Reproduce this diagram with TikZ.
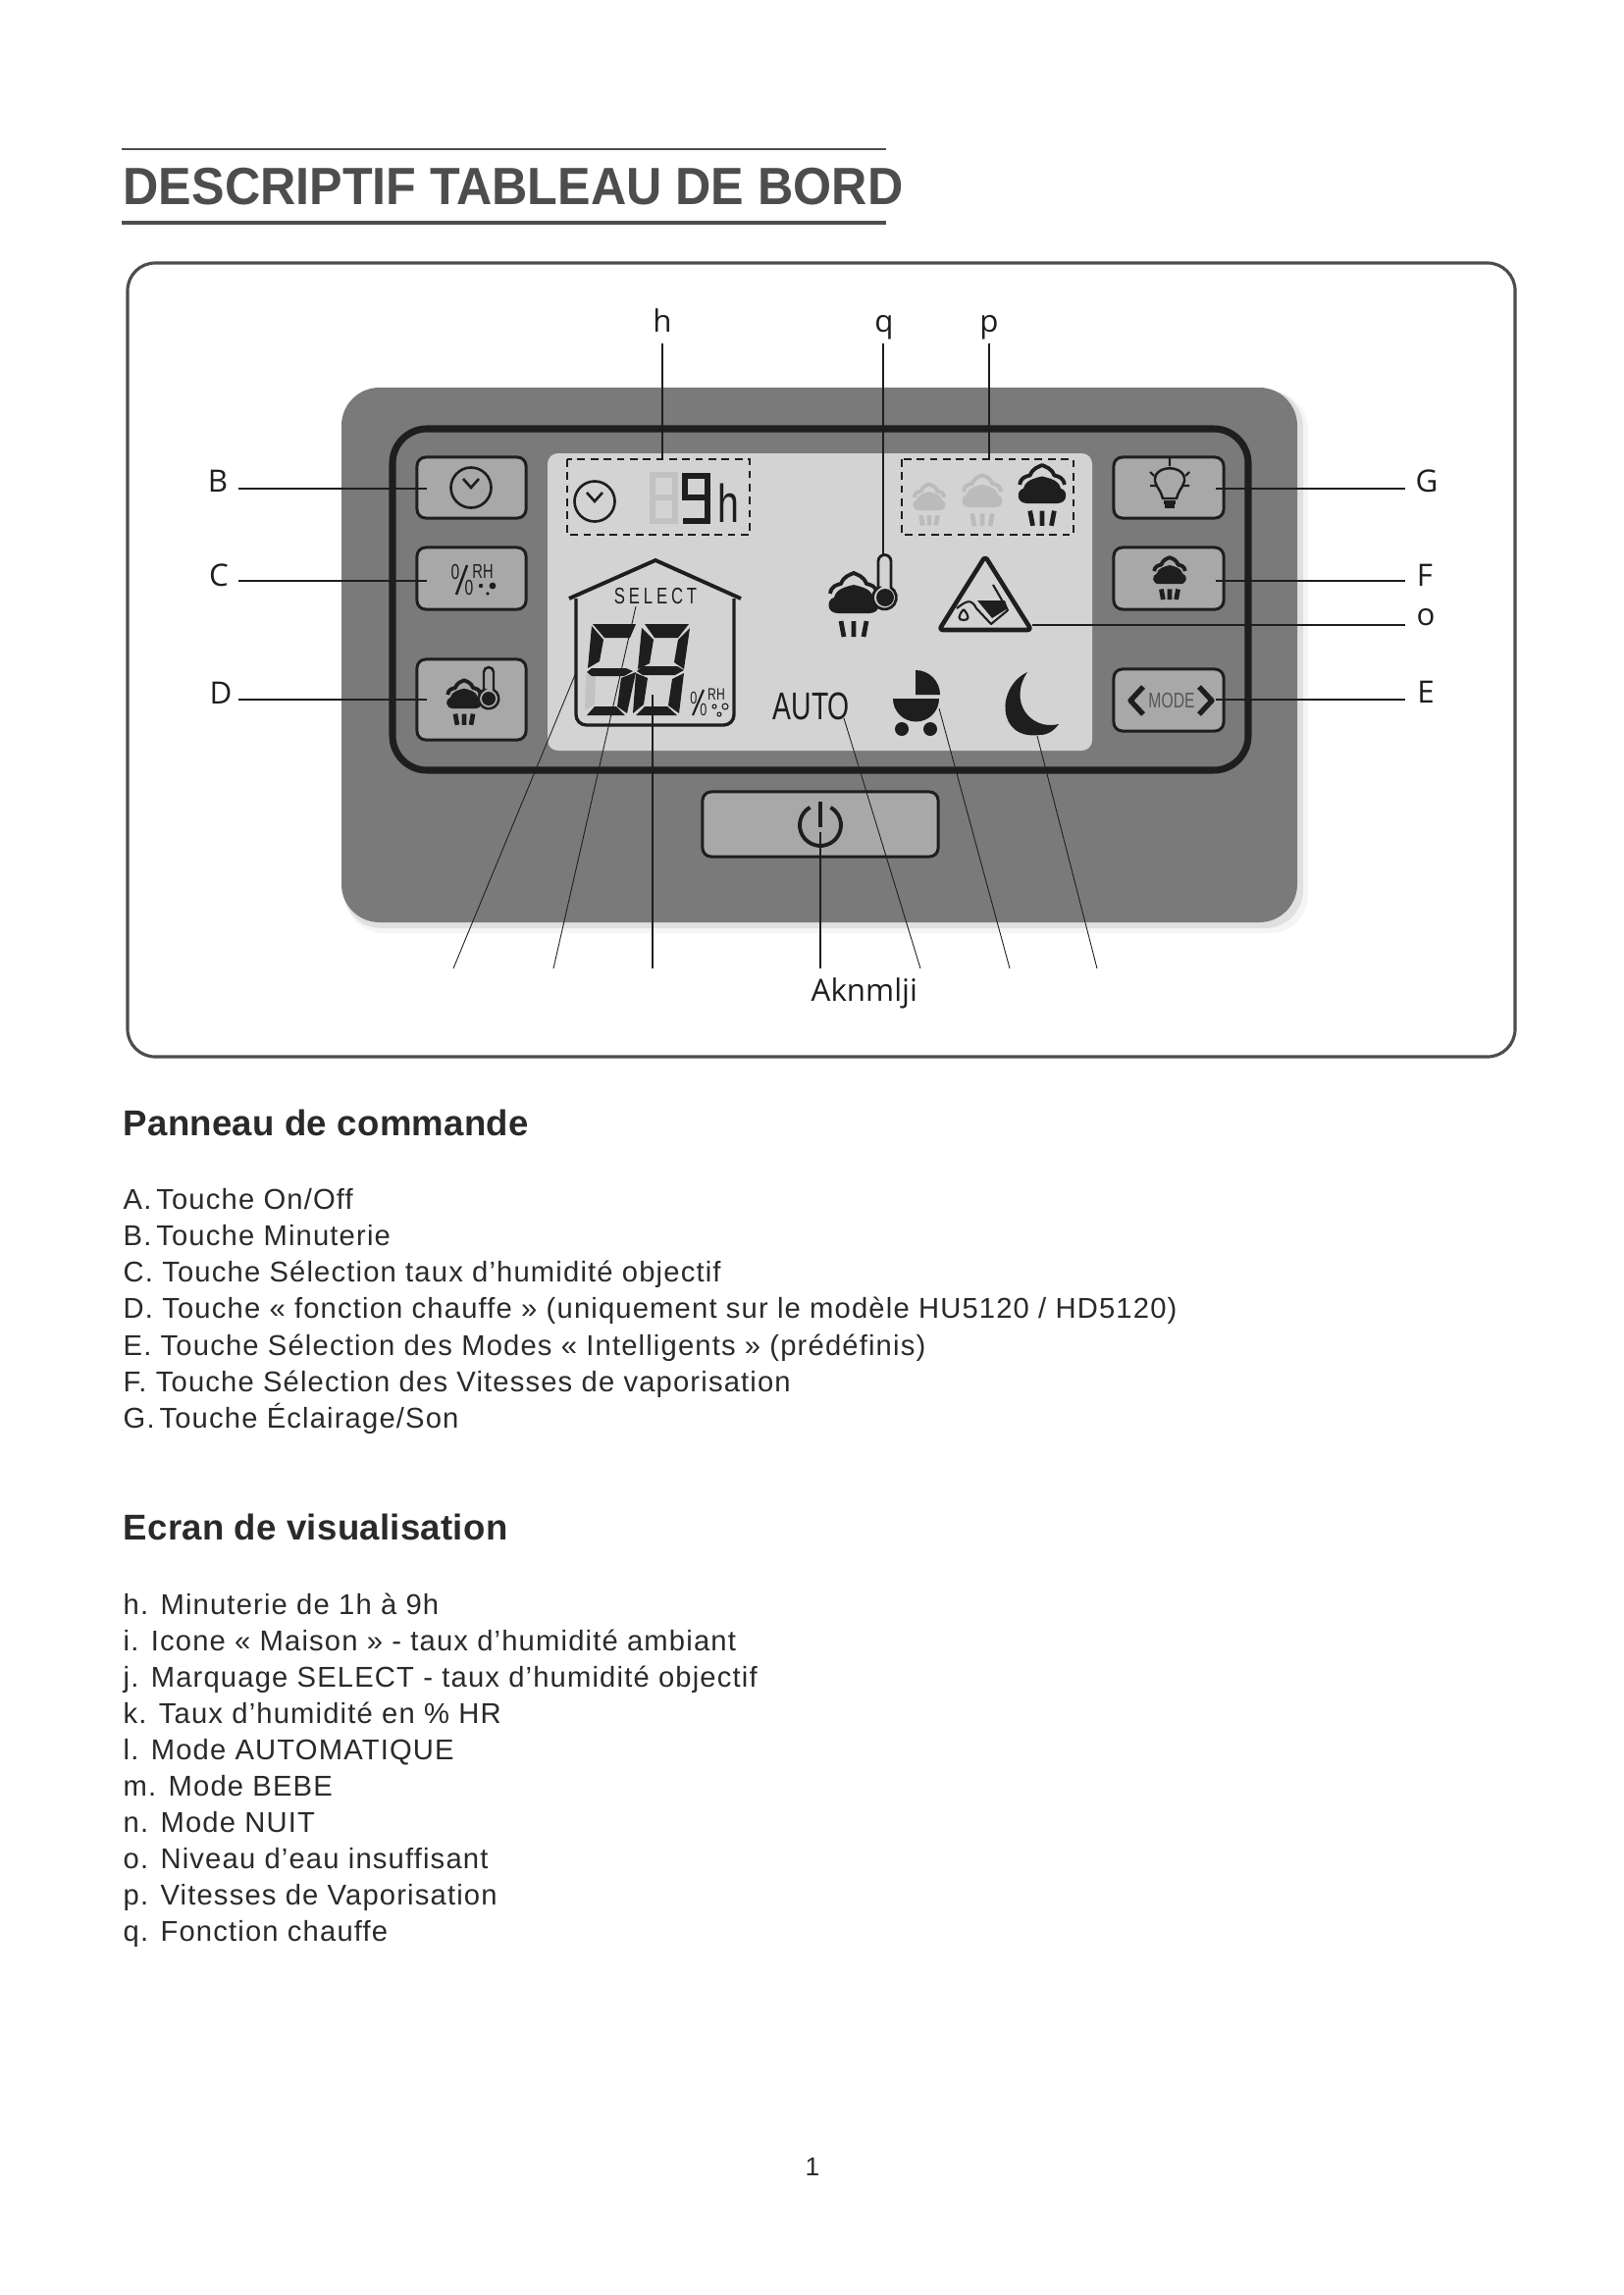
\documentclass[tikz,border=0pt]{standalone}
\usepackage{fontspec}
\setmainfont[LetterSpace=4]{Liberation Sans}
\newfontfamily\headfont[LetterSpace=0.8]{Liberation Sans}
\newfontfamily\titlefont[FakeStretch=0.94]{Liberation Sans}
\newfontfamily\digitfont[FakeStretch=0.72]{Liberation Sans}
\newfontfamily\calloutfont{Open Sans}
\definecolor{panelgrey}{HTML}{7A7A7A}
\definecolor{lcdgrey}{HTML}{D3D3D3}
\definecolor{btngrey}{HTML}{A8A8A8}
\definecolor{inkdark}{HTML}{1E1E1E}
\definecolor{titlegrey}{HTML}{4D4D4D}
\definecolor{ghostgrey}{HTML}{C2C2C2}
\definecolor{textgrey}{HTML}{2A2A2A}
\tikzset{
  x=0.01cm,y=-0.01cm,
  btn/.style={draw=inkdark,line width=0.85pt,fill=btngrey,rounded corners=2.5pt,inner sep=0pt,minimum width=1.11cm},
  lead/.style={draw=inkdark,line width=0.38pt},
  thinlead/.style={draw=inkdark,line width=0.25pt},
  dashbox/.style={draw=inkdark,line width=0.6pt,dash pattern=on 2.2pt off 1.6pt},
  callout/.style={font=\calloutfont\fontsize{8.9}{11}\selectfont,text=inkdark,inner sep=0pt},
  bodyline/.style={anchor=base west,yshift=-0.1cm,inner sep=0pt,font=\fontsize{8.3}{10}\selectfont,text=textgrey},
  heading/.style={anchor=base west,yshift=-0.125cm,inner sep=0pt,font=\headfont\bfseries\fontsize{10.4}{13}\selectfont,text=textgrey},
  lcdglyph/.style={inner sep=0pt,text=inkdark},
  pics/cloud/.style={code={
    \draw[line width=1.35pt,draw=#1] (-13,28)--(-10,44) (0,28)--(0,44) (13,28)--(10,44);
    \fill[#1] (-16,20) .. controls (-28,20) and (-28,6) .. (-20,4) .. controls (-18,-5) and (-8,-7) .. (0,-9) .. controls (8,-7) and (18,-5) .. (20,4) .. controls (28,6) and (28,20) .. (16,20) -- cycle;
    \draw[line width=1.1pt,draw=#1,line join=round] (-24,0) .. controls (-23,-8) and (-17,-9) .. (-13,-10) .. controls (-10,-18) and (-4,-19) .. (0,-21) .. controls (4,-19) and (10,-18) .. (13,-10) .. controls (17,-9) and (23,-8) .. (24,0);
  }},
}
\begin{document}
\begin{tikzpicture}
\useasboundingbox (0,0) rectangle (1654,2339);
\fill[white] (0,0) rectangle (1654,2339);
% title
\draw[titlegrey,line width=0.5pt] (124,152)--(903,152);
\draw[titlegrey,line width=1pt] (124,227)--(903,227);
\node[anchor=west,inner sep=0pt,text=titlegrey,font=\titlefont\bfseries\fontsize{15.2}{18}\selectfont] (title) at (125,190) {DESCRIPTIF TABLEAU DE BORD};
% outer frame
\draw[draw=titlegrey,line width=0.9pt,rounded corners=8pt] (130,268) rectangle (1544,1077);
% panel with soft shadow
\fill[black!4,rounded corners=11pt] (352,399) rectangle (1333,951);
\fill[black!12,rounded corners=11pt] (350,397) rectangle (1328,946);
\fill[panelgrey,rounded corners=11pt] (348,395) rectangle (1322,940);
\fill[lcdgrey,rounded corners=3pt] (558,462) rectangle (1113,765);
\draw[inkdark,line width=2pt,rounded corners=10pt] (400,437) rectangle (1272,785);
% buttons
\node[btn,minimum height=0.62cm] (btnB) at (480.5,497) {};
\node[btn,minimum height=0.63cm] (btnC) at (480.5,589.5) {};
\node[btn,minimum height=0.82cm] (btnD) at (480.5,713) {};
\node[btn,minimum height=0.62cm,minimum width=1.12cm] (btnG) at (1191,497) {};
\node[btn,minimum height=0.63cm,minimum width=1.12cm] (btnF) at (1191,589.5) {};
\node[btn,minimum height=0.63cm,minimum width=1.12cm] (btnE) at (1191,713.5) {};
\node[btn,minimum height=0.66cm,minimum width=2.40cm] (btnA) at (836,840) {};
% power icon
\draw[inkdark,line width=1.1pt] (825.5,822.8) arc (-120:-420:21);
\draw[inkdark,line width=1.1pt] (836,817)--(836,843);
% clock button
\draw[inkdark,line width=0.75pt] (480,497) circle (20.5);
\draw[inkdark,line width=0.75pt] (472,488)--(480,497)--(488,488);
% %RH button
\node[lcdglyph,font=\digitfont\fontsize{6.2}{7}\selectfont] (pctB0) at (464,583) {0};
\draw[inkdark,line width=0.7pt] (476,576)--(465,606);
\node[lcdglyph,font=\digitfont\fontsize{6.2}{7}\selectfont] (pctB1) at (478,599) {0};
\node[lcdglyph,font=\digitfont\fontsize{5.8}{6}\selectfont] (rhB) at (492,582) {RH};
\fill[inkdark] (490,597) circle (2.2) (502,597) circle (3.4) (497,605) circle (1.8);
% cloud+thermo button
\pic[scale=0.7] at (473,708) {cloud=inkdark};
\draw[inkdark,line width=0.7pt,fill=btngrey] (493,703) -- (493,685) arc (180:360:5) -- (503,703) arc (-61:241:10.3) -- cycle;
\fill[inkdark] (498,712) circle (7);
% bulb button
\draw[inkdark,line width=0.7pt] (1185,508) .. controls (1182,496) and (1174,494) .. (1178,484) .. controls (1183,475) and (1201,475) .. (1206,484) .. controls (1210,494) and (1202,496) .. (1199,508) -- cycle;
\draw[inkdark,line width=0.9pt] (1186,512)--(1198,512) (1187,516)--(1197,516);
\draw[inkdark,line width=0.6pt] (1192,475)--(1192,467) (1172,481)--(1176,485) (1212,481)--(1208,485) (1172,495)--(1178,495) (1206,495)--(1212,495);
% cloud button
\pic[scale=0.66] at (1192,582) {cloud=inkdark};
% MODE button
\draw[inkdark,line width=1.5pt,line join=round] (1165,700)--(1152,714)--(1165,728);
\draw[inkdark,line width=1.5pt,line join=round] (1222,700)--(1235,714)--(1222,728);
\node[inner sep=0pt,text=inkdark!75,font=\digitfont\fontsize{6.2}{8}\selectfont] (modetxt) at (1194,714) {MODE};
% LCD dashed boxes
\draw[dashbox] (578,468) rectangle (764,545);
\draw[dashbox] (919,468) rectangle (1094,545);
% lcd clock
\draw[inkdark,line width=0.75pt] (606,511) circle (20.5);
\draw[inkdark,line width=0.75pt] (598,502)--(606,511)--(614,502);
% digits ghost 8
\draw[ghostgrey,line width=1.9pt] (665,484) rectangle (688,531);
\draw[ghostgrey,line width=1.6pt] (665,507)--(688,507);
% digit 9
\draw[inkdark,line width=1.8pt,line join=miter] (721,507)--(698,507)--(698,485)--(721,485)--(721,531)--(696,531);
% h
\node[lcdglyph,font=\digitfont\fontsize{15.5}{18}\selectfont] (hunit) at (742,513) {h};
% clouds in the dashed box
\begin{scope}[opacity=0.13]
\pic[scale=0.65] at (947,507) {cloud=inkdark};
\pic[scale=0.8] at (1001,501) {cloud=inkdark};
\end{scope}
\pic[scale=0.95] at (1062,494) {cloud=inkdark};
% house
\draw[inkdark,line width=1.1pt,line join=round] (580,610)--(668,571)--(755,610);
\draw[inkdark,line width=0.95pt,rounded corners=3pt] (587,610)--(587,739)--(748,739)--(748,610);
\node[lcdglyph,font=\digitfont\fontsize{6.6}{8}\selectfont] (selecttxt) at (668,608) {S\,E\,L\,E\,C\,T};
% big digit 5
\fill[ghostgrey] (597,687) -- (607,687) -- (606,718) -- (596,724) -- cycle;
\fill[inkdark] (604,636)--(648,636)--(642,650)--(616,650)--cycle;
\fill[inkdark] (603,638)--(615,652)--(611,674)--(599,681)--cycle;
\fill[inkdark] (603,681)--(638,681)--(645,684)--(636,689)--(603,689)--(598,685)--cycle;
\fill[inkdark] (648,685)--(639,727)--(629,720)--(633,691)--cycle;
\fill[inkdark] (598,729)--(637,729)--(628,720)--(606,720)--cycle;
% big digit 8
\fill[inkdark] (657,636)--(702,636)--(691,650)--(667,650)--cycle;
\fill[inkdark] (654,640)--(666,652)--(662,676)--(650,682)--cycle;
\fill[inkdark] (703,640)--(697,682)--(687,675)--(691,652)--cycle;
\fill[inkdark] (655,679)--(690,679)--(697,683)--(688,688)--(655,688)--(649,684)--cycle;
\fill[inkdark] (697,686)--(692,727)--(681,719)--(685,692)--cycle;
\fill[inkdark] (648,686)--(645,727)--(656,718)--(660,691)--cycle;
\fill[inkdark] (648,729)--(690,729)--(680,720)--(657,720)--cycle;
% small RH
\node[lcdglyph,font=\digitfont\fontsize{5}{6}\selectfont] (pctK0) at (707,711) {0};
\draw[inkdark,line width=0.6pt] (717,703)--(706,729);
\node[lcdglyph,font=\digitfont\fontsize{5}{6}\selectfont] (pctK1) at (717,723) {0};
\node[lcdglyph,font=\digitfont\fontsize{4.8}{5}\selectfont] (rhK) at (730,708) {RH};
\draw[inkdark,line width=0.3pt] (728,720) circle (2) (739,720) circle (3) (733,728) circle (2);
% AUTO
\node[anchor=west,lcdglyph,font=\digitfont\fontsize{11.2}{12}\selectfont] (autotxt) at (787,720) {AUTO};
% heat cloud + thermometer
\pic[scale=1.0] at (870,605) {cloud=inkdark};
\draw[inkdark,line width=0.8pt,fill=lcdgrey] (895,599)--(895,572) arc (180:360:6.5)--(908,599) arc (-57:237:11.93) -- cycle;
\fill[inkdark] (902,609) circle (9);
% warning triangle
\draw[inkdark,line width=1.3pt,line join=round,rounded corners=1pt] (1004,567)--(1051,642)--(957,642)--cycle;
\draw[inkdark,line width=0.6pt,line join=round] (975,620) .. controls (985,612) and (990,610) .. (995,620) -- (1010,636) -- (1027,622) -- (1012,596);
\fill[inkdark] (996,612)--(1024,612)--(1027,620)--(1011,630)--cycle;
\draw[inkdark,line width=0.6pt] (982,621) .. controls (976,628) and (976,632) .. (982,632) .. controls (988,632) and (988,628) .. (982,621);
% stroller
\fill[inkdark] (933,683) arc (-90:0:25) -- (933,708) -- cycle;
\fill[inkdark] (957,712) arc (0:180:23.5) -- cycle;
\fill[inkdark] (919,743) circle (7) (948,743) circle (7);
% moon
\fill[inkdark] (1047,685) .. controls (1015,700) and (1015,755) .. (1060,749) .. controls (1068,749) and (1075,744) .. (1079,738) .. controls (1050,745) and (1027,715) .. (1047,685) -- cycle;
% top leads
\coordinate (hTop) at (675,350); \coordinate (hEnd) at (675,468);
\coordinate (qTop) at (900,350); \coordinate (qEnd) at (900,567);
\coordinate (pTop) at (1008,350); \coordinate (pEnd) at (1008,468);
\draw[lead] (hTop)--(hEnd);
\draw[lead] (qTop)--(qEnd);
\draw[lead] (pTop)--(pEnd);
\node[callout,anchor=base] (lh) at (675,338) {h};
\node[callout,anchor=base] (lq) at (901,338) {q};
\node[callout,anchor=base] (lp) at (1008,338) {p};
% left leads
\node[callout] (lB) at (222,490) {B};
\node[callout] (lC) at (223,586) {C};
\node[callout] (lD) at (225,706) {D};
\coordinate (bS) at (243,498); \coordinate (bE) at (435,498);
\coordinate (cS) at (243,592); \coordinate (cE) at (435,592);
\coordinate (dS) at (243,713); \coordinate (dE) at (435,713);
\draw[lead] (bS)--(bE);
\draw[lead] (cS)--(cE);
\draw[lead] (dS)--(dE);
% right leads
\node[callout] (lG) at (1454,490) {G};
\node[callout] (lF) at (1452,586) {F};
\node[callout] (lo) at (1453,629) {o};
\node[callout] (lE) at (1453,705) {E};
\coordinate (gS) at (1432,498); \coordinate (gE) at (1239,498);
\coordinate (fS) at (1432,592); \coordinate (fE) at (1239,592);
\coordinate (oS) at (1432,637); \coordinate (oE) at (1052,637);
\coordinate (eS) at (1432,713); \coordinate (eE) at (1239,713);
\draw[lead] (gS)--(gE);
\draw[lead] (fS)--(fE);
\draw[lead] (oS)--(oE);
\draw[lead] (eS)--(eE);
% bottom leads
\coordinate (i1) at (588,683); \coordinate (i2) at (462,987);
\coordinate (j1) at (648,618); \coordinate (j2) at (564,987);
\coordinate (k1) at (665,708); \coordinate (k2) at (665,987);
\coordinate (a1) at (836,848); \coordinate (a2) at (836,987);
\coordinate (l1) at (860,732); \coordinate (l2) at (938,987);
\coordinate (m1) at (957,722); \coordinate (m2) at (1029,987);
\coordinate (n1) at (1057,750); \coordinate (n2) at (1118,987);
\draw[thinlead] (i1)--(i2);
\draw[thinlead] (j1)--(j2);
\draw[lead] (k1)--(k2);
\draw[lead] (a1)--(a2);
\draw[thinlead] (l1)--(l2);
\draw[thinlead] (m1)--(m2);
\draw[thinlead] (n1)--(n2);
\node[callout,anchor=base west] (lbot) at (826,1020) {Aknmlji};
% texts
\node[heading] (h1) at (125,1145) {Panneau de commande};
\node[bodyline] (ta) at (125,1222) {A.\,Touche On/Off};
\node[bodyline] (tb) at (125,1259) {B.\,Touche Minuterie};
\node[bodyline] (tc) at (125,1296) {C. Touche Sélection taux d’humidité objectif};
\node[bodyline] (td) at (125,1333) {D. Touche « fonction chauffe » (uniquement sur le modèle HU5120 / HD5120)};
\node[bodyline] (te) at (125,1371) {E. Touche Sélection des Modes « Intelligents » (prédéfinis)};
\node[bodyline] (tf) at (125,1408) {F. Touche Sélection des Vitesses de vaporisation};
\node[bodyline] (tg) at (125,1445) {G.\,Touche Éclairage/Son};
\node[heading] (h2) at (125,1557) {Ecran de visualisation};
\node[bodyline] (th) at (125,1635) {h. Minuterie de 1h à 9h};
\node[bodyline] (ti) at (125,1672) {i. Icone « Maison » - taux d’humidité ambiant};
\node[bodyline] (tj) at (125,1709) {j. Marquage SELECT - taux d’humidité objectif};
\node[bodyline] (tk) at (125,1746) {k. Taux d’humidité en \% HR};
\node[bodyline] (tl) at (125,1783) {l. Mode AUTOMATIQUE};
\node[bodyline] (tm) at (125,1820) {m. Mode BEBE};
\node[bodyline] (tn) at (125,1857) {n. Mode NUIT};
\node[bodyline] (to) at (125,1894) {o. Niveau d’eau insuffisant};
\node[bodyline] (tp) at (125,1931) {p. Vitesses de Vaporisation};
\node[bodyline] (tq) at (125,1968) {q. Fonction chauffe};
\node[inner sep=0pt,text=textgrey,font=\fontsize{7.5}{9}\selectfont] (pageno) at (828,2208) {1};
\end{tikzpicture}
\end{document}
